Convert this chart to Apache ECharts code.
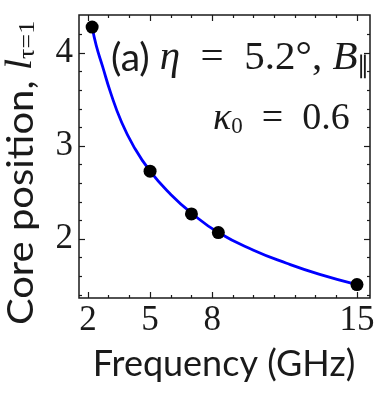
<!DOCTYPE html>
<html>
<head>
<meta charset="utf-8">
<script src="https://cdn.jsdelivr.net/npm/echarts@6/dist/echarts.min.js"></script>
<style>
  html, body { margin: 0; padding: 0; background: #fff; }
  #chart { width: 391px; height: 399px; }
</style>
</head>
<body>
<div id="chart"></div>
<script>
  // measured core positions
  var freq = [2.2, 5.0, 7.0, 8.3, 15.0]
  var corePos = [4.28, 2.73, 2.27, 2.07, 1.51]
  // fitted curve
  var fitFreq = [2.2, 2.4, 2.7, 3.1, 3.6, 4.2, 5.0, 6.0, 7.0, 8.3, 10.0, 11.6, 13.2, 15.0]
  var fitPos = [4.28, 4.08, 3.86, 3.57, 3.27, 3.00, 2.73, 2.48, 2.28, 2.07, 1.88, 1.74, 1.62, 1.51]
  // ticks
  var xMajor = [2, 5, 8, 15]
  var xMinor = [3, 4, 6, 7, 9, 10, 11, 12, 13, 14]
  var yMajor = [2, 3, 4]
  var yMinor = [1.4, 1.6, 1.8, 2.2, 2.4, 2.6, 2.8, 3.2, 3.4, 3.6, 3.8, 4.2]

  var xMin = 1.565, xMax = 15.63
  var yMin = 1.366, yMax = 4.41
  var ink = '#1a1a1a'
  var serif = 'Liberation Serif'
  var sans = 'Lato'

  function xAx (pos, ticks, len, labels) {
    return {
      type: 'value', position: pos, min: xMin, max: xMax,
      axisLine: {show: false},
      splitLine: {show: false},
      axisTick: {inside: true, length: len, customValues: ticks, lineStyle: {color: ink, width: 1.2}},
      axisLabel: labels ? {customValues: ticks, fontFamily: serif, fontSize: 35, color: ink, margin: 5} : {show: false}
    }
  }
  function yAx (pos, ticks, len, labels) {
    return {
      type: 'value', position: pos, min: yMin, max: yMax,
      axisLine: {show: false},
      splitLine: {show: false},
      axisTick: {inside: true, length: len, customValues: ticks, lineStyle: {color: ink, width: 1.2}},
      axisLabel: labels ? {customValues: ticks, fontFamily: serif, fontSize: 35, color: ink, margin: 6} : {show: false}
    }
  }

  var curve = fitFreq.map(function (f, i) { return [f, fitPos[i]] })
  var points = freq.map(function (f, i) { return [f, corePos[i]] })

  var myChart = echarts.init(document.getElementById('chart'))
  myChart.setOption({
    animation: false,
    grid: {
      left: 79, right: 21, top: 15, bottom: 101,
      show: true, borderColor: ink, borderWidth: 1.5, backgroundColor: 'transparent'
    },
    xAxis: [
      xAx('bottom', xMajor, 6, true),
      xAx('bottom', xMinor, 3, false),
      xAx('top', xMajor, 6, false),
      xAx('top', xMinor, 3, false)
    ],
    yAxis: [
      yAx('left', yMajor, 6, true),
      yAx('left', yMinor, 3, false),
      yAx('right', yMajor, 6, false),
      yAx('right', yMinor, 3, false)
    ],
    series: [
      {
        type: 'line',
        data: curve,
        smooth: true,
        showSymbol: false,
        lineStyle: {color: '#0000ff', width: 2.8},
        z: 2
      },
      {
        type: 'scatter',
        data: points,
        symbolSize: 13,
        itemStyle: {color: '#000', opacity: 1},
        z: 3
      }
    ],
    graphic: [
      {
        type: 'text', left: 111, top: 38,
        style: {
          text: '{s|(a) }{i|η}{n|  =  5.2°, }{i|B}{sub|∥}',
          rich: {
            s: {fontFamily: sans, fontSize: 39, fill: ink},
            i: {fontFamily: serif, fontStyle: 'italic', fontSize: 41, fill: ink},
            n: {fontFamily: serif, fontSize: 41, fill: ink},
            sub: {fontFamily: serif, fontSize: 24, fill: ink, verticalAlign: 'bottom', padding: [14, 0, 0, 0]}
          }
        }
      },
      {
        type: 'text', left: 213, top: 100,
        style: {
          text: '{i|κ}{sub|0}{n|  =  0.6}',
          rich: {
            i: {fontFamily: serif, fontStyle: 'italic', fontSize: 38, fill: ink},
            n: {fontFamily: serif, fontSize: 38, fill: ink},
            sub: {fontFamily: serif, fontSize: 23, fill: ink, verticalAlign: 'bottom', padding: [13, 0, 0, 0]}
          }
        }
      },
      {
        type: 'text', x: 21, y: 173, rotation: Math.PI / 2, scaleX: 1.08,
        style: {
          text: '{s|Core position, }{i|l}{sub|τ=1}',
          align: 'center', verticalAlign: 'middle',
          rich: {
            s: {fontFamily: sans, fontSize: 37, fill: ink},
            i: {fontFamily: serif, fontStyle: 'italic', fontSize: 38, fill: ink},
            sub: {fontFamily: serif, fontSize: 24, fill: ink, verticalAlign: 'bottom', padding: [12, 0, 0, 0]}
          }
        }
      },
      {
        type: 'text', x: 224, y: 364,
        style: {
          text: 'Frequency (GHz)',
          align: 'center', verticalAlign: 'middle',
          fontFamily: sans, fontSize: 36, fill: ink
        }
      }
    ]
  })
</script>
</body>
</html>
